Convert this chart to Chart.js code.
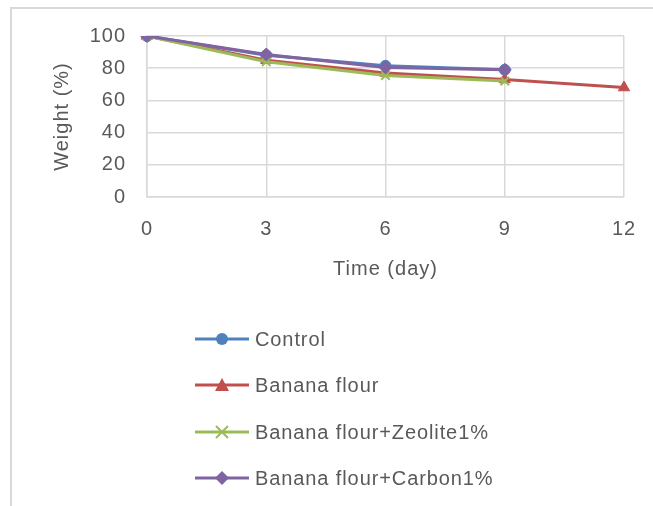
<!DOCTYPE html>
<html>
<head>
<meta charset="utf-8">
<script src="https://cdn.jsdelivr.net/npm/chart.js@4"></script>
<style>
    body { margin: 0; background: #fff; }
    #frame {
        position: absolute; left: 10px; top: 7px; width: 643px; height: 499px;
        border-left: 2px solid #d9d9d9; border-top: 2px solid #d9d9d9;
    }
    #weightChart { position: absolute; left: 0; top: 0; }
    #legend {
        position: absolute; left: 195px; top: 324px;
        font-family: "Liberation Sans", Arial, sans-serif; font-size: 20px; color: #595959;
    }
    .item { height: 46.3px; display: flex; align-items: flex-start; }
    .item svg { margin-top: 3px; margin-right: 6px; }
    .item span { line-height: 30px; letter-spacing: 0.9px; }
</style>
</head>
<body>
<div id="frame"></div>
<canvas id="weightChart" width="653" height="506"></canvas>
<div id="legend"></div>
<script>
const days = ['0', '3', '6', '9', '12'];
const seriesNames = ['Control', 'Banana flour', 'Banana flour+Zeolite1%', 'Banana flour+Carbon1%'];
const control = [100, 88, 81.5, 79];
const bananaFlour = [100, 85, 77, 73, 68];
const zeolite = [100, 84, 75.5, 72];
const carbon = [100, 88.5, 80.5, 79];
const yTicks = [0, 20, 40, 60, 80, 100];

const colors = ['#4f81bd', '#c0504d', '#9bbb59', '#8064a2'];
const markers = ['circle', 'triangle', 'crossRot', 'rectRot'];
const sizes = [5.5, 6.5, 6, 6.5];
const values = [control, bananaFlour, zeolite, carbon];

const datasets = values.map((v, i) => ({
    label: seriesNames[i],
    data: v,
    borderColor: colors[i],
    backgroundColor: colors[i],
    borderWidth: 3,
    pointStyle: markers[i],
    pointRadius: sizes[i],
    pointBorderWidth: i == 2 ? 2 : 1,
    pointBorderColor: colors[i],
    tension: 0,
    order: 4 - i
}));

const gridColor = '#d9d9d9';
const textColor = '#595959';
const font = (size) => ({ family: 'Liberation Sans', size: size });

// the original text is spaced out a bit
const spacing = {
    id: 'spacing',
    beforeDraw: (c) => { c.ctx.letterSpacing = '1px'; }
};

const ctx = document.getElementById('weightChart');
const chart = new Chart(ctx, {
    type: 'line',
    data: { labels: days, datasets: datasets },
    plugins: [spacing],
    options: {
        responsive: false,
        animation: false,
        layout: { padding: { left: 45, top: 36, right: 29, bottom: 221 } },
        plugins: { legend: { display: false }, tooltip: { enabled: false } },
        scales: {
            x: {
                offset: false,
                grid: { color: gridColor, lineWidth: 1.5, drawTicks: false },
                border: { color: gridColor, width: 1.5 },
                ticks: { color: textColor, padding: 20, font: font(20) },
                title: { display: true, text: 'Time (day)', color: textColor, padding: { top: 4, bottom: 4 }, font: font(20) },
                afterFit: (s) => { s.height = 88; s.paddingRight = 0; s.paddingLeft = 0; }
            },
            y: {
                min: 0, max: 100,
                afterBuildTicks: (s) => { s.ticks = yTicks.map(v => ({ value: v })); },
                grid: { color: gridColor, lineWidth: 1.5, drawTicks: false },
                border: { color: gridColor, width: 1.5 },
                ticks: { color: textColor, padding: 21, font: font(20) },
                title: { display: true, text: 'Weight (%)', color: textColor, padding: { top: 5, bottom: 0 }, font: font(20) },
                afterFit: (s) => { s.width = 102; }
            }
        }
    }
});

// legend drawn as a vertical list like the original
function markerSvg(i) {
    const c = colors[i];
    let m = '';
    if (markers[i] == 'circle') m = `<circle cx="27" cy="12" r="6" fill="${c}"/>`;
    if (markers[i] == 'triangle') m = `<polygon points="27,5 34,18 20,18" fill="${c}"/>`;
    if (markers[i] == 'crossRot') m = `<path d="M21 6 L33 18 M33 6 L21 18" stroke="${c}" stroke-width="2"/>`;
    if (markers[i] == 'rectRot') m = `<polygon points="27,5 34,12 27,19 20,12" fill="${c}"/>`;
    return `<svg width="54" height="24"><line x1="0" y1="12" x2="54" y2="12" stroke="${c}" stroke-width="3"/>${m}</svg>`;
}
document.getElementById('legend').innerHTML = seriesNames.map((name, i) =>
    `<div class="item">${markerSvg(i)}<span>${name}</span></div>`).join('');
</script>
</body>
</html>
